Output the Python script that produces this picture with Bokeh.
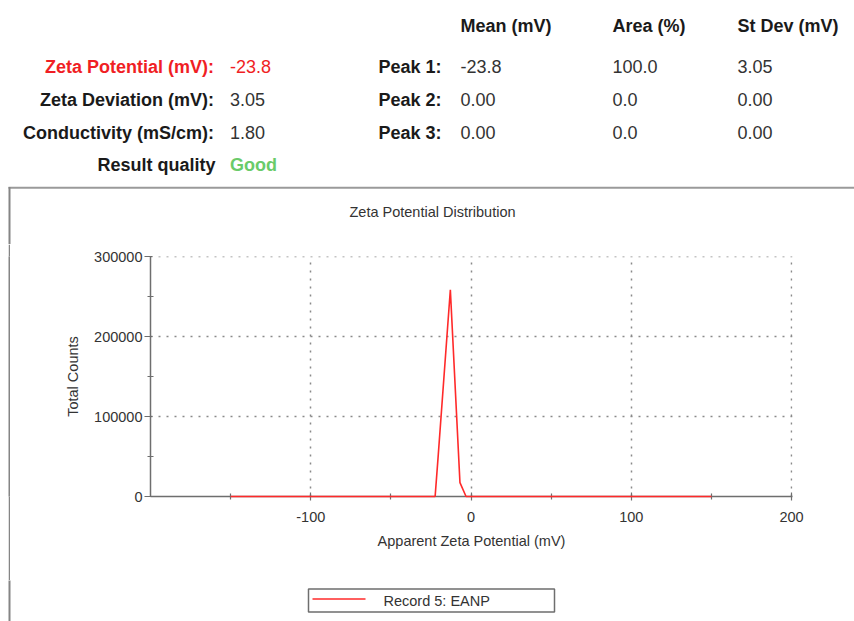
from bokeh.plotting import figure
from bokeh.layouts import column, row
from bokeh.models import FixedTicker, NumeralTickFormatter, Range1d, Spacer
from bokeh.core.properties import value
from bokeh.embed import file_html
from bokeh.resources import INLINE

# ---------------- data ----------------
zeta_mv = [-150, -22.4, -20.4, -12.9, -6.9, -3.1, 150]
total_counts = [0, 0, 53000, 258800, 17300, 0, 0]
x_ticks = [-100, 0, 100, 200]
x_minor_ticks = [-150, -50, 50, 150]
y_ticks = [0, 100000, 200000, 300000]
y_minor_ticks = [50000, 150000, 250000]

summary_labels = ["Zeta Potential (mV):", "Zeta Deviation (mV):", "Conductivity (mS/cm):"]
summary_values = ["-23.8", "3.05", "1.80"]
quality_label = "Result quality"
quality_value = "Good"
peak_names = ["Peak 1:", "Peak 2:", "Peak 3:"]
peak_columns = ["Mean (mV)", "Area (%)", "St Dev (mV)"]
peak_mean = ["-23.8", "0.00", "0.00"]
peak_area = ["100.0", "0.0", "0.0"]
peak_stdev = ["3.05", "0.00", "0.00"]
chart_title = "Zeta Potential Distribution"
x_label = "Apparent Zeta Potential (mV)"
y_label = "Total Counts"
series_name = "Record 5: EANP"

# ---------------- layout ----------------
W, H = 854, 621
A_H = 244            # header band height
B_H = 336            # chart band height
C_H = H - A_H - B_H  # legend band height
GAP_W = 8            # white space left of the chart-box border
LINE_W = 2           # chart-box left border width
FONT = "Liberation Sans"
BORDER = "#858585"


def canvas_fig(x0, x1, y0, y1):
    """A figure whose frame fills the whole canvas; data coords = page pixels."""
    f = figure(width=int(x1 - x0), height=int(y1 - y0), output_backend="svg",
               toolbar_location=None, x_range=Range1d(x0, x1), y_range=Range1d(y1, y0),
               x_axis_type=None, y_axis_type=None, min_border=0,
               background_fill_color="white", border_fill_color="white")
    f.outline_line_color = None
    f.grid.visible = False
    return f


# ---------- band A: header ----------
A = canvas_fig(0, W, 0, A_H)


def put(px, py, text, align, color, bold=False, size="18px"):
    A.text(x=[px], y=[py], text=[text], text_align=align, text_baseline="middle",
           text_font=value(FONT), text_font_size=value(size),
           text_font_style="bold" if bold else "normal", text_color=color)


row_y = [66, 99, 132]
label_colors = ["#f01e24", "#1a1a1a", "#1a1a1a"]
value_colors = ["#f01e24", "#333333", "#333333"]
for i in range(3):
    put(213.5, row_y[i], summary_labels[i], "right", label_colors[i], True)
    put(229.5, row_y[i], summary_values[i], "left", value_colors[i])
put(215, 164, quality_label, "right", "#1a1a1a", True)
put(229.5, 164, quality_value, "left", "#6acb6a", True)

col_x = [460, 612, 737]
for j in range(3):
    put(col_x[j], 25, peak_columns[j], "left", "#1a1a1a", True)
for i in range(3):
    put(378, row_y[i], peak_names[i], "left", "#1a1a1a", True)
    for j, col in enumerate((peak_mean, peak_area, peak_stdev)):
        put(col_x[j], row_y[i], col[i], "left", "#333333")

# chart box top + left border, and chart title
LX = GAP_W + LINE_W / 2
A.segment(x0=[GAP_W], y0=[187.3], x1=[W + 5], y1=[187.3], line_color="#9a9a9a", line_width=2)
A.segment(x0=[LX], y0=[186.5], x1=[LX], y1=[A_H + 5], line_color=BORDER, line_width=LINE_W)
put(432, 211, chart_title, "center", "#333333", size="14.5px")

# ---------- band B: chart ----------
gap = Spacer(width=GAP_W, height=B_H)
L = figure(width=LINE_W, height=B_H, output_backend="svg", toolbar_location=None,
           x_axis_type=None, y_axis_type=None, min_border=0,
           background_fill_color=BORDER, border_fill_color=BORDER)
L.outline_line_color = None
L.grid.visible = False

PX0 = GAP_W + LINE_W
FL, FT, FW, FH = 150 - PX0, 256 - A_H, 642, 240
BW = W - PX0
p = figure(width=BW, height=B_H, output_backend="svg", toolbar_location=None,
           x_range=Range1d(-200, 200.6), y_range=Range1d(0, 300400),
           min_border_left=FL, min_border_top=FT,
           min_border_right=BW - FL - FW, min_border_bottom=B_H - FT - FH,
           background_fill_color="white", border_fill_color="white")
p.outline_line_color = None

for ax in (p.xaxis[0], p.yaxis[0]):
    ax.axis_line_color = "#6e6e6e"
    ax.axis_line_width = 1.5
    ax.major_tick_line_color = "#6e6e6e"
    ax.minor_tick_line_color = "#6e6e6e"
    ax.major_tick_line_width = 1.2
    ax.minor_tick_line_width = 1.2
    ax.major_label_text_font = FONT
    ax.major_label_text_font_size = "14.5px"
    ax.major_label_text_color = "#333333"
    ax.axis_label_text_font = FONT
    ax.axis_label_text_font_size = "14.5px"
    ax.axis_label_text_font_style = "normal"
    ax.axis_label_text_color = "#333333"
    ax.formatter = NumeralTickFormatter(format="0")

p.xaxis[0].ticker = FixedTicker(ticks=x_ticks, minor_ticks=x_minor_ticks)
p.yaxis[0].ticker = FixedTicker(ticks=y_ticks, minor_ticks=y_minor_ticks)
p.xaxis[0].major_tick_in = 4
p.xaxis[0].major_tick_out = 4
p.xaxis[0].minor_tick_in = 3
p.xaxis[0].minor_tick_out = 3
p.xaxis[0].major_label_standoff = 11
p.xaxis[0].axis_label_standoff = 8
p.yaxis[0].major_tick_in = 2
p.yaxis[0].major_tick_out = 6
p.yaxis[0].minor_tick_in = 3
p.yaxis[0].minor_tick_out = 3
p.yaxis[0].major_label_standoff = 2
p.yaxis[0].axis_label_standoff = 10
p.xaxis[0].axis_label = x_label
p.yaxis[0].axis_label = y_label

for g in (p.xgrid[0], p.ygrid[0]):
    g.grid_line_color = "#8a8a8a"
    g.grid_line_dash = "2 6"
    g.grid_line_width = 1.5
    g.minor_grid_line_color = None

r = p.line(zeta_mv, total_counts, line_color="#ff2a2a", line_width=1.6)
r.level = "overlay"

# ---------- band C: legend ----------
C = canvas_fig(0, W, A_H + B_H, H)
C.segment(x0=[LX], y0=[A_H + B_H - 5], x1=[LX], y1=[H + 5], line_color=BORDER, line_width=LINE_W)
C.quad(left=[308], right=[554], top=[588.5], bottom=[611.5], fill_color="white",
       line_color="#6e6e6e", line_width=1.5)
C.segment(x0=[312], y0=[598.5], x1=[365], y1=[598.5], line_color="#ff2a2a", line_width=1.6)
C.text(x=[383], y=[600], text=[series_name], text_align="left", text_baseline="middle",
       text_font=value(FONT), text_font_size=value("14.5px"), text_color="#333333")

layout = column(A, row(gap, L, p, spacing=0), C, spacing=0)
open("out.html", "w").write(file_html(layout, INLINE))
